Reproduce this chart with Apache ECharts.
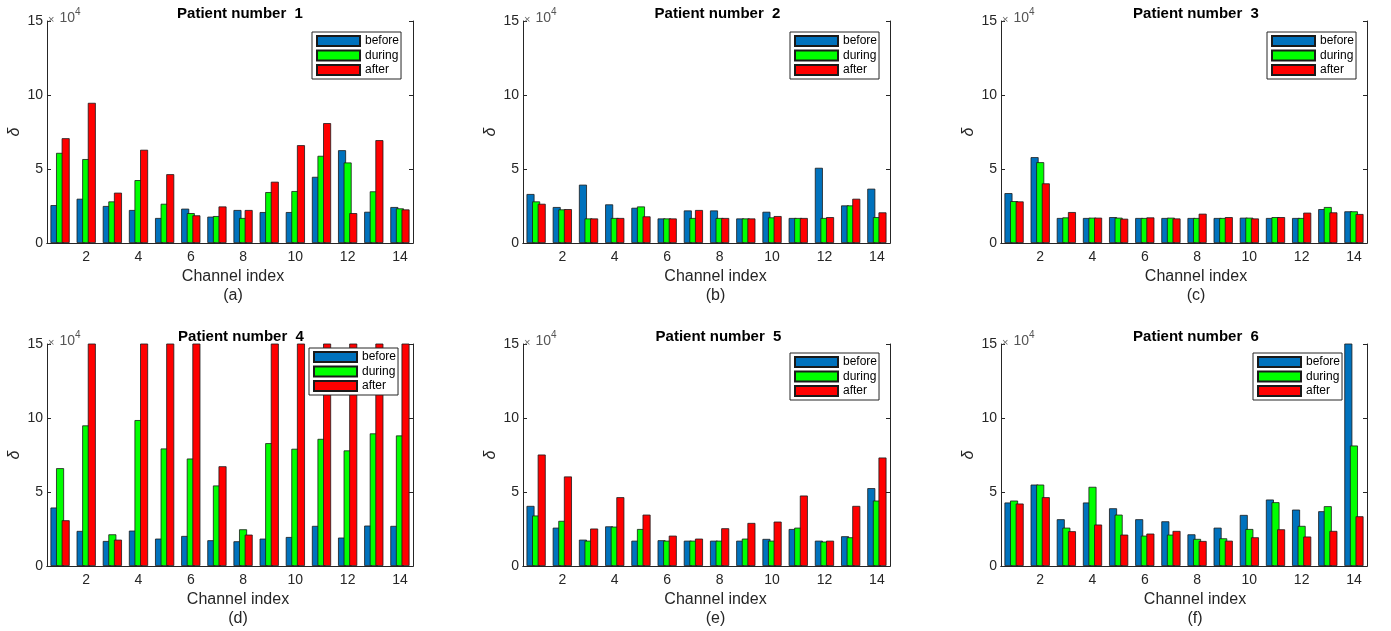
<!DOCTYPE html>
<html><head><meta charset="utf-8">
<script src="https://cdn.jsdelivr.net/npm/echarts@6/dist/echarts.min.js"></script>
<style>html,body{margin:0;padding:0;background:#fff}#c{width:1391px;height:631px}</style>
</head><body><div id="c"></div>
<script>
// ---- data (values in units of 10^4) ----
const channels = ['1','2','3','4','5','6','7','8','9','10','11','12','13','14'];
const xTickLabels = ['2','4','6','8','10','12','14'];
const yTicks = [0, 5, 10, 15];
const seriesNames = ['before', 'during', 'after'];
const panelTitles = ['Patient number  1','Patient number  2','Patient number  3','Patient number  4','Patient number  5','Patient number  6'];
const panelLetters = ['(a)','(b)','(c)','(d)','(e)','(f)'];

const p1Before = [2.56, 2.99, 2.50, 2.23, 1.69, 2.32, 1.78, 2.23, 2.09, 2.09, 4.47, 6.27, 2.11, 2.43];
const p1During = [6.09, 5.67, 2.81, 4.25, 2.65, 2.02, 1.82, 1.69, 3.44, 3.51, 5.89, 5.44, 3.49, 2.34];
const p1After  = [7.08, 9.47, 3.40, 6.30, 4.65, 1.87, 2.47, 2.23, 4.14, 6.61, 8.10, 2.02, 6.95, 2.27];

const p2Before = [3.31, 2.43, 3.94, 2.61, 2.38, 1.66, 2.20, 2.20, 1.66, 2.11, 1.69, 5.08, 2.54, 3.67];
const p2During = [2.81, 2.27, 1.66, 1.69, 2.47, 1.66, 1.69, 1.69, 1.66, 1.73, 1.69, 1.69, 2.54, 1.75];
const p2After  = [2.65, 2.29, 1.66, 1.69, 1.80, 1.66, 2.23, 1.69, 1.66, 1.82, 1.69, 1.75, 2.99, 2.07];

const p3Before = [3.37, 5.80, 1.69, 1.69, 1.75, 1.69, 1.69, 1.69, 1.69, 1.71, 1.69, 1.69, 2.29, 2.14];
const p3During = [2.83, 5.46, 1.73, 1.71, 1.71, 1.69, 1.71, 1.69, 1.69, 1.71, 1.75, 1.69, 2.43, 2.14];
const p3After  = [2.81, 4.03, 2.09, 1.71, 1.64, 1.73, 1.66, 1.98, 1.75, 1.66, 1.75, 2.05, 2.07, 1.96];

const p4Before = [3.95, 2.37, 1.69, 2.39, 1.85, 2.03, 1.74, 1.67, 1.85, 1.96, 2.71, 1.92, 2.73, 2.71];
const p4During = [6.61, 9.50, 2.14, 9.86, 7.94, 7.26, 5.44, 2.48, 8.30, 7.92, 8.59, 7.81, 8.96, 8.82];
const p4After  = [3.09, 17.5, 1.78, 19.0, 18.0, 16.5, 6.74, 2.12, 20.0, 18.5, 21.0, 17.0, 19.5, 22.0];

const p5Before = [4.06, 2.59, 1.78, 2.68, 1.71, 1.74, 1.71, 1.71, 1.71, 1.83, 2.50, 1.71, 2.01, 5.26];
const p5During = [3.41, 3.05, 1.71, 2.66, 2.50, 1.71, 1.71, 1.71, 1.85, 1.71, 2.59, 1.65, 1.94, 4.42];
const p5After  = [7.53, 6.05, 2.53, 4.65, 3.47, 2.05, 1.85, 2.55, 2.91, 3.00, 4.76, 1.71, 4.06, 7.33];

const p6Before = [4.29, 5.50, 3.16, 4.29, 3.90, 3.16, 3.02, 2.14, 2.59, 3.45, 4.49, 3.81, 3.70, 17.0];
const p6During = [4.42, 5.50, 2.59, 5.35, 3.47, 2.05, 2.12, 1.83, 1.87, 2.50, 4.31, 2.71, 4.04, 8.14];
const p6After  = [4.22, 4.65, 2.35, 2.80, 2.12, 2.19, 2.37, 1.69, 1.71, 1.94, 2.48, 1.99, 2.37, 3.36];

// ---- layout / style ----
const FONT = "'Liberation Sans', Arial, Helvetica, sans-serif";
const AX = '#262626';
const colors = ['#0072BD', '#00FF00', '#FF0000'];
const plotH = 222;
const panels = [
  {data:[p1Before,p1During,p1After], left:47,  top:21,  width:366, titleDx:10, labelDx:3,  legendLeft:312,  legendTop:32},
  {data:[p2Before,p2During,p2After], left:523, top:21,  width:367, titleDx:11, labelDx:9,  legendLeft:790,  legendTop:32},
  {data:[p3Before,p3During,p3After], left:1001,top:21,  width:366, titleDx:12, labelDx:12, legendLeft:1267, legendTop:32},
  {data:[p4Before,p4During,p4After], left:47,  top:344, width:366, titleDx:11, labelDx:8,  legendLeft:309,  legendTop:348},
  {data:[p5Before,p5During,p5After], left:523, top:344, width:367, titleDx:12, labelDx:9,  legendLeft:790,  legendTop:353},
  {data:[p6Before,p6During,p6After], left:1001,top:344, width:366, titleDx:12, labelDx:11, legendLeft:1253, legendTop:353}
];
const evenTick = (idx, val) => xTickLabels.indexOf(val) >= 0;

const option = {animation:false, textStyle:{fontFamily:FONT}, title:[], grid:[], xAxis:[], yAxis:[], legend:[], series:[]};

panels.forEach((p, i) => {
  const cx = p.left + p.width / 2;
  option.grid.push({left:p.left, top:p.top, width:p.width, height:plotH});
  const lineStyle = {color:AX, width:1};
  option.xAxis.push({
    type:'category', gridIndex:i, data:channels, position:'bottom', boundaryGap:true,
    axisLine:{lineStyle}, splitLine:{show:false},
    axisTick:{inside:true, length:4, alignWithLabel:true, interval:evenTick, lineStyle},
    axisLabel:{interval:evenTick, color:AX, fontSize:14, margin:7, fontFamily:FONT},
    name:'Channel index', nameLocation:'middle', nameGap:26,
    nameTextStyle:{fontSize:16, color:AX, fontFamily:FONT, padding:[0,0,0,2*p.labelDx]}
  });
  option.xAxis.push({
    type:'category', gridIndex:i, data:channels, position:'top', boundaryGap:true,
    axisLine:{lineStyle}, splitLine:{show:false},
    axisTick:{inside:true, length:4, alignWithLabel:true, interval:evenTick, lineStyle},
    axisLabel:{show:false}
  });
  option.yAxis.push({
    type:'value', gridIndex:i, min:yTicks[0], max:yTicks[yTicks.length-1], interval:yTicks[1]-yTicks[0], position:'left',
    axisLine:{show:true, lineStyle}, splitLine:{show:false},
    axisTick:{show:true, inside:true, length:4, lineStyle},
    axisLabel:{color:AX, fontSize:14, margin:4, fontFamily:FONT},
    name:'δ', nameLocation:'middle', nameGap:24,
    nameTextStyle:{fontSize:16, fontStyle:'italic', color:AX, fontFamily:FONT}
  });
  option.yAxis.push({
    type:'value', gridIndex:i, min:yTicks[0], max:yTicks[yTicks.length-1], interval:yTicks[1]-yTicks[0], position:'right',
    axisLine:{show:true, lineStyle}, splitLine:{show:false},
    axisTick:{show:true, inside:true, length:4, lineStyle},
    axisLabel:{show:false}
  });
  seriesNames.forEach((name, k) => {
    option.series.push({
      type:'bar', name, xAxisIndex:2*i, yAxisIndex:2*i, data:p.data[k],
      barWidth:8, barGap:'-30%', clip:true,
      itemStyle:{color:colors[k], borderColor:'#1a1a1a', borderWidth:0.8}
    });
  });
  option.legend.push({
    data:seriesNames, orient:'vertical', left:p.legendLeft, top:p.legendTop,
    itemWidth:43, itemHeight:10, itemGap:2.5, padding:[3,2,3,4],
    borderColor:AX, borderWidth:1, backgroundColor:'#fff', selectedMode:false, icon:'rect',
    textStyle:{fontSize:12, color:'#000', fontFamily:FONT}
  });
  option.title.push({
    text:panelTitles[i], left:cx + p.titleDx, top:p.top - 15, textAlign:'center', padding:0,
    textStyle:{fontSize:15, fontWeight:'bold', color:'#000', fontFamily:FONT}
  });
  option.title.push({
    text:panelLetters[i], left:cx + p.labelDx, top:p.top + plotH + 45, textAlign:'center', padding:0,
    textStyle:{fontSize:16, fontWeight:'normal', color:AX, fontFamily:FONT}
  });
  option.title.push({
    text:'{x|×} {a|10}{s|4}', left:p.left + 1, top:p.top - 14, padding:0,
    textStyle:{fontWeight:'normal', rich:{
      x:{fontSize:11, color:'#666', fontWeight:'normal', fontFamily:FONT, lineHeight:15, verticalAlign:'bottom'},
      a:{fontSize:14, color:'#555', fontWeight:'normal', fontFamily:FONT, lineHeight:15, verticalAlign:'bottom'},
      s:{fontSize:10, color:'#555', fontWeight:'normal', fontFamily:FONT, lineHeight:15, verticalAlign:'top'}
    }}
  });
});

const chart = echarts.init(document.getElementById('c'), null, {renderer:'canvas'});
chart.setOption(option);
</script></body></html>
